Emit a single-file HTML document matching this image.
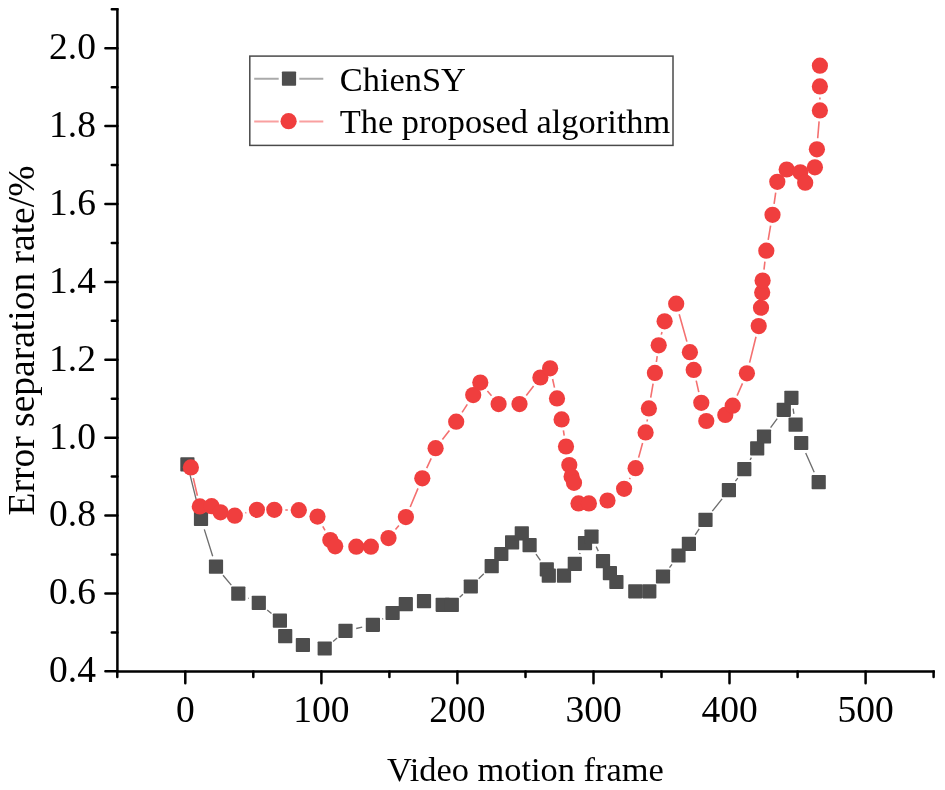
<!DOCTYPE html>
<html><head><meta charset="utf-8"><style>
html,body{margin:0;padding:0;background:#fff;}
svg{display:block;will-change:transform;}
text{font-family:"Liberation Serif",serif;fill:#000;}
</style></head><body>
<svg width="945" height="790" viewBox="0 0 945 790">
<rect width="945" height="790" fill="#fff"/>
<g stroke="#000" stroke-width="2.5" fill="none" stroke-linecap="butt">
<path d="M117.4 8.2V672.6M116.2 671.4H934.8"/>
<path d="M105.4 671.3H117.4M111.8 632.4H117.4M105.4 593.4H117.4M111.8 554.5H117.4M105.4 515.5H117.4M111.8 476.6H117.4M105.4 437.7H117.4M111.8 398.7H117.4M105.4 359.8H117.4M111.8 320.8H117.4M105.4 281.9H117.4M111.8 243.0H117.4M105.4 204.0H117.4M111.8 165.1H117.4M105.4 126.1H117.4M111.8 87.2H117.4M105.4 48.3H117.4M111.8 9.3H117.4M117.3 671.4V677.0M185.3 671.4V683.2M253.3 671.4V677.0M321.4 671.4V683.2M389.4 671.4V677.0M457.4 671.4V683.2M525.5 671.4V677.0M593.5 671.4V683.2M661.5 671.4V677.0M729.5 671.4V683.2M797.6 671.4V677.0M865.6 671.4V683.2M933.6 671.4V677.0" stroke-linecap="round"/>
</g>
<g font-size="37.5">
<text x="95.9" y="682.1" text-anchor="end">0.4</text><text x="95.9" y="604.2" text-anchor="end">0.6</text><text x="95.9" y="526.3" text-anchor="end">0.8</text><text x="95.9" y="448.5" text-anchor="end">1.0</text><text x="95.9" y="370.6" text-anchor="end">1.2</text><text x="95.9" y="292.7" text-anchor="end">1.4</text><text x="95.9" y="214.8" text-anchor="end">1.6</text><text x="95.9" y="136.9" text-anchor="end">1.8</text><text x="95.9" y="59.1" text-anchor="end">2.0</text>
<text x="185.3" y="722.4" text-anchor="middle">0</text><text x="321.4" y="722.4" text-anchor="middle">100</text><text x="457.4" y="722.4" text-anchor="middle">200</text><text x="593.5" y="722.4" text-anchor="middle">300</text><text x="729.5" y="722.4" text-anchor="middle">400</text><text x="865.6" y="722.4" text-anchor="middle">500</text>
</g>
<text x="386.9" y="780.5" font-size="34.4">Video motion frame</text>
<text transform="translate(34.0 340.5) rotate(-90)" text-anchor="middle" font-size="37.5">Error separation rate/%</text>
<path d="M190.1 475.1L198.3 508.2M204.3 529.4L212.7 556.2M223.0 575.2L231.3 585.1M248.3 598.1L248.8 598.4M267.2 610.0L271.5 613.5M313.8 646.7L313.8 646.8M333.1 641.4L337.1 638.0M356.2 628.5L362.2 627.2M382.3 619.1L383.2 618.7M459.7 597.2L462.9 594.2M478.7 578.8L483.8 573.8M536.0 554.2L540.4 560.4M579.6 554.0L580.2 553.0M596.2 546.6L598.3 551.1M669.5 567.6L672.0 564.4M695.2 534.9L699.2 528.9M712.3 511.2L722.1 498.8M735.4 481.2L737.8 478.1M750.1 459.9L751.4 457.7M770.6 427.7L777.2 418.6M793.1 408.7L793.9 413.8M805.7 453.0L814.2 472.2" stroke="#6e6e6e" stroke-width="1.35" fill="none"/>
<g fill="#4d4d4d"><rect x="180.3" y="457.3" width="14.2" height="14.2" rx="0.8"/><rect x="193.9" y="511.8" width="14.2" height="14.2" rx="0.8"/><rect x="208.9" y="559.6" width="14.2" height="14.2" rx="0.8"/><rect x="231.2" y="586.5" width="14.2" height="14.2" rx="0.8"/><rect x="251.7" y="595.8" width="14.2" height="14.2" rx="0.8"/><rect x="272.8" y="613.5" width="14.2" height="14.2" rx="0.8"/><rect x="278.1" y="629.1" width="14.2" height="14.2" rx="0.8"/><rect x="295.8" y="637.9" width="14.2" height="14.2" rx="0.8"/><rect x="317.6" y="641.4" width="14.2" height="14.2" rx="0.8"/><rect x="338.4" y="623.8" width="14.2" height="14.2" rx="0.8"/><rect x="365.8" y="617.7" width="14.2" height="14.2" rx="0.8"/><rect x="385.5" y="605.9" width="14.2" height="14.2" rx="0.8"/><rect x="398.7" y="597.1" width="14.2" height="14.2" rx="0.8"/><rect x="416.9" y="594.0" width="14.2" height="14.2" rx="0.8"/><rect x="435.6" y="597.7" width="14.2" height="14.2" rx="0.8"/><rect x="444.7" y="597.8" width="14.2" height="14.2" rx="0.8"/><rect x="463.7" y="579.4" width="14.2" height="14.2" rx="0.8"/><rect x="484.6" y="559.0" width="14.2" height="14.2" rx="0.8"/><rect x="494.2" y="546.9" width="14.2" height="14.2" rx="0.8"/><rect x="505.0" y="535.3" width="14.2" height="14.2" rx="0.8"/><rect x="514.7" y="526.2" width="14.2" height="14.2" rx="0.8"/><rect x="522.5" y="538.1" width="14.2" height="14.2" rx="0.8"/><rect x="539.7" y="562.3" width="14.2" height="14.2" rx="0.8"/><rect x="541.7" y="568.6" width="14.2" height="14.2" rx="0.8"/><rect x="556.9" y="568.6" width="14.2" height="14.2" rx="0.8"/><rect x="567.7" y="556.8" width="14.2" height="14.2" rx="0.8"/><rect x="577.9" y="536.0" width="14.2" height="14.2" rx="0.8"/><rect x="584.4" y="529.5" width="14.2" height="14.2" rx="0.8"/><rect x="595.9" y="554.0" width="14.2" height="14.2" rx="0.8"/><rect x="602.8" y="566.0" width="14.2" height="14.2" rx="0.8"/><rect x="609.3" y="574.9" width="14.2" height="14.2" rx="0.8"/><rect x="628.2" y="584.2" width="14.2" height="14.2" rx="0.8"/><rect x="642.2" y="584.2" width="14.2" height="14.2" rx="0.8"/><rect x="655.9" y="569.4" width="14.2" height="14.2" rx="0.8"/><rect x="671.4" y="548.4" width="14.2" height="14.2" rx="0.8"/><rect x="681.8" y="536.8" width="14.2" height="14.2" rx="0.8"/><rect x="698.4" y="512.8" width="14.2" height="14.2" rx="0.8"/><rect x="721.8" y="483.0" width="14.2" height="14.2" rx="0.8"/><rect x="737.2" y="462.1" width="14.2" height="14.2" rx="0.8"/><rect x="750.1" y="441.3" width="14.2" height="14.2" rx="0.8"/><rect x="756.9" y="429.4" width="14.2" height="14.2" rx="0.8"/><rect x="776.7" y="402.7" width="14.2" height="14.2" rx="0.8"/><rect x="784.3" y="390.7" width="14.2" height="14.2" rx="0.8"/><rect x="788.5" y="417.6" width="14.2" height="14.2" rx="0.8"/><rect x="794.1" y="435.9" width="14.2" height="14.2" rx="0.8"/><rect x="811.6" y="475.1" width="14.2" height="14.2" rx="0.8"/></g>
<path d="M193.3 478.1L197.4 495.7M245.4 512.9L246.3 512.6M285.3 510.0L287.8 510.0M322.8 526.3L325.0 530.3M395.5 529.6L398.9 525.6M410.2 507.0L418.0 488.4M426.7 468.2L431.2 458.3M442.4 439.5L449.4 430.4M462.1 412.4L467.3 404.4M487.4 391.0L491.5 395.7M526.3 395.5L533.6 386.1M552.6 379.0L554.5 387.7M563.4 430.3L564.2 435.6M629.5 479.2L630.2 477.8M638.6 457.6L642.6 443.0M647.1 421.5L647.4 419.3M650.7 397.6L653.1 383.7M656.4 362.0L657.2 356.2M661.3 334.6L662.0 332.0M679.2 314.3L686.9 341.6M696.2 380.6L698.8 392.1M737.1 395.6L742.5 383.4M749.6 362.6L756.0 336.8M764.0 269.7L764.9 261.6M768.2 239.9L770.6 225.6M774.1 203.9L775.7 192.7M817.7 138.3L819.1 121.4M819.9 99.4L819.9 97.4" stroke="#f47070" stroke-width="1.6" fill="none"/>
<g fill="#f03e3e"><circle cx="190.9" cy="467.4" r="8.1"/><circle cx="199.8" cy="506.4" r="8.1"/><circle cx="211.6" cy="506.2" r="8.1"/><circle cx="220.5" cy="512.3" r="8.1"/><circle cx="234.8" cy="515.7" r="8.1"/><circle cx="256.9" cy="509.8" r="8.1"/><circle cx="274.3" cy="509.8" r="8.1"/><circle cx="298.8" cy="510.2" r="8.1"/><circle cx="317.5" cy="516.6" r="8.1"/><circle cx="330.3" cy="540" r="8.1"/><circle cx="335.2" cy="546.3" r="8.1"/><circle cx="356.3" cy="546.7" r="8.1"/><circle cx="370.9" cy="546.7" r="8.1"/><circle cx="388.5" cy="538.1" r="8.1"/><circle cx="405.9" cy="517.1" r="8.1"/><circle cx="422.3" cy="478.3" r="8.1"/><circle cx="435.6" cy="448.2" r="8.1"/><circle cx="456.2" cy="421.7" r="8.1"/><circle cx="473.2" cy="395.1" r="8.1"/><circle cx="480.3" cy="382.6" r="8.1"/><circle cx="498.6" cy="404.1" r="8.1"/><circle cx="519.5" cy="404.1" r="8.1"/><circle cx="540.4" cy="377.5" r="8.1"/><circle cx="550.1" cy="368.3" r="8.1"/><circle cx="557" cy="398.4" r="8.1"/><circle cx="561.6" cy="419.4" r="8.1"/><circle cx="566" cy="446.5" r="8.1"/><circle cx="569.3" cy="465" r="8.1"/><circle cx="571.6" cy="476.5" r="8.1"/><circle cx="574" cy="482.8" r="8.1"/><circle cx="578.5" cy="503.4" r="8.1"/><circle cx="588.9" cy="503.4" r="8.1"/><circle cx="607.5" cy="500.5" r="8.1"/><circle cx="624.1" cy="488.8" r="8.1"/><circle cx="635.6" cy="468.2" r="8.1"/><circle cx="645.6" cy="432.4" r="8.1"/><circle cx="648.9" cy="408.4" r="8.1"/><circle cx="654.9" cy="372.9" r="8.1"/><circle cx="658.7" cy="345.3" r="8.1"/><circle cx="664.6" cy="321.3" r="8.1"/><circle cx="676.2" cy="303.7" r="8.1"/><circle cx="689.9" cy="352.2" r="8.1"/><circle cx="693.7" cy="369.9" r="8.1"/><circle cx="701.3" cy="402.8" r="8.1"/><circle cx="706.3" cy="421" r="8.1"/><circle cx="725.3" cy="414.9" r="8.1"/><circle cx="732.7" cy="405.7" r="8.1"/><circle cx="746.9" cy="373.3" r="8.1"/><circle cx="758.7" cy="326.1" r="8.1"/><circle cx="761" cy="307.7" r="8.1"/><circle cx="762.2" cy="292.4" r="8.1"/><circle cx="762.6" cy="280.6" r="8.1"/><circle cx="766.3" cy="250.7" r="8.1"/><circle cx="772.5" cy="214.8" r="8.1"/><circle cx="777.3" cy="181.8" r="8.1"/><circle cx="786.7" cy="169.5" r="8.1"/><circle cx="800.3" cy="172.3" r="8.1"/><circle cx="805.2" cy="182.7" r="8.1"/><circle cx="814.9" cy="167.3" r="8.1"/><circle cx="816.9" cy="149.3" r="8.1"/><circle cx="819.9" cy="110.4" r="8.1"/><circle cx="819.9" cy="86.4" r="8.1"/><circle cx="819.9" cy="65.7" r="8.1"/></g>
<rect x="249.8" y="56.1" width="423.2" height="89.3" fill="#fff" stroke="#4a4a4a" stroke-width="1.5"/>
<path d="M254.2 78.7H278.7M299.3 78.7H323.3" stroke="#aaa" stroke-width="2"/>
<rect x="281.9" y="71.5" width="14.2" height="14.2" rx="0.8" fill="#4d4d4d"/>
<path d="M254.2 121.4H278.7M299.3 121.4H323.3" stroke="#f9a0a0" stroke-width="2"/>
<circle cx="288.6" cy="121.2" r="8.1" fill="#f03e3e"/>
<text x="339.8" y="90.6" font-size="34.4">ChienSY</text>
<text x="339.8" y="133.2" font-size="34.4">The proposed algorithm</text>
</svg>
</body></html>
